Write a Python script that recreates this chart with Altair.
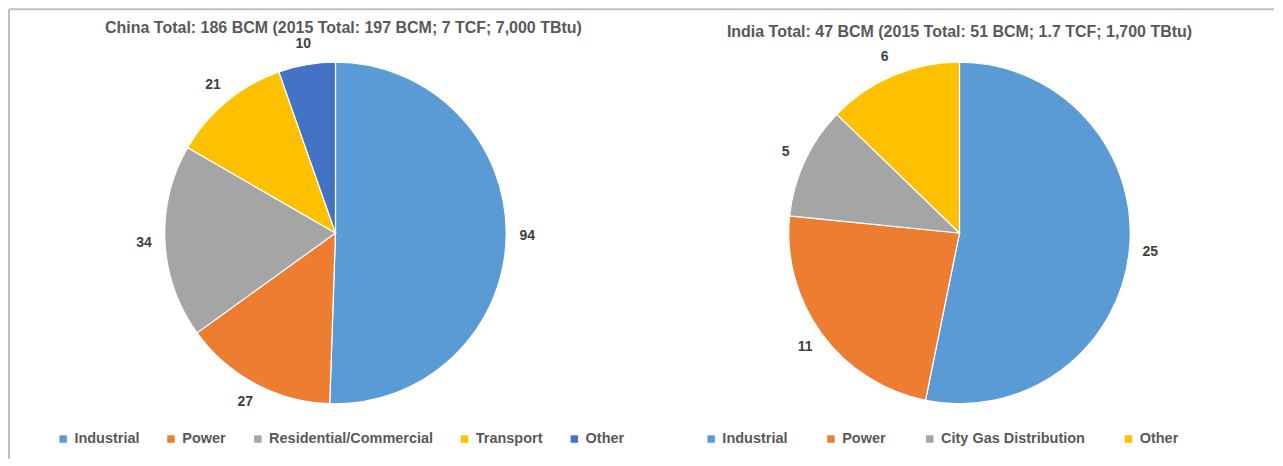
import altair as alt
import pandas as pd

# ---- data ----
china_categories = ["Industrial", "Power", "Residential/Commercial", "Transport", "Other"]
china_values = [94, 27, 34, 21, 10]
china_colors = ["#5B9BD5", "#ED7D31", "#A5A5A5", "#FFC000", "#4472C4"]
china_title = "China Total: 186 BCM (2015 Total: 197 BCM; 7 TCF; 7,000 TBtu)"

india_categories = ["Industrial", "Power", "City Gas Distribution", "Other"]
india_values = [25, 11, 5, 6]
india_colors = ["#5B9BD5", "#ED7D31", "#A5A5A5", "#FFC000"]
india_title = "India Total: 47 BCM (2015 Total: 51 BCM; 1.7 TCF; 1,700 TBtu)"

countries = ["China", "India"]

FONT = "Liberation Sans"
W, H = 1267, 450


def make_df(country, cats, vals):
    return pd.DataFrame({
        "country": country,
        "category": cats,
        "value": vals,
        "order": list(range(len(cats))),
    })


xenc = alt.X("country:N", scale=alt.Scale(type="point", domain=countries, range=[327, 952], padding=0), axis=None)
ycenter = alt.value(224)


def pie(country, cats, vals, colors, title, legend_x, col_pad, title_y, title_dx):
    df = make_df(country, cats, vals)
    base = alt.Chart(df)
    arc = base.mark_arc(outerRadius=171, stroke="white", strokeWidth=1.2).encode(
        x=xenc,
        y=ycenter,
        theta=alt.Theta("value:Q", stack=True),
        order=alt.Order("order:Q"),
        color=alt.Color(
            "category:N",
            scale=alt.Scale(domain=cats, range=colors),
            sort=cats,
            legend=alt.Legend(
                title=None,
                orient="none",
                direction="horizontal",
                legendX=legend_x,
                legendY=423,
                columns=len(cats),
                columnPadding=col_pad,
                symbolType="square",
                symbolSize=56,
                symbolStrokeWidth=0,
                labelFont=FONT,
                labelFontSize=14.5,
                labelFontWeight="bold",
                labelColor="#595959",
                labelOffset=4,
                labelLimit=300,
            ),
        ),
    )
    text = base.mark_text(radius=192, font=FONT, fontSize=14, fontWeight="bold", color="#404040").encode(
        x=xenc,
        y=ycenter,
        theta=alt.Theta("value:Q", stack=True),
        order=alt.Order("order:Q"),
        text=alt.Text("value:Q"),
    )
    tdf = pd.DataFrame({"country": [country], "title": [title]})
    ttl = alt.Chart(tdf).mark_text(font=FONT, fontSize=16, fontWeight="bold", color="#595959", dx=title_dx).encode(
        x=xenc,
        y=alt.value(title_y),
        text="title:N",
    )
    return (arc + text).resolve_scale(theta="shared"), ttl


c_pie, c_ttl = pie("China", china_categories, china_values, china_colors, china_title, 47, 24, 19, 8)
i_pie, i_ttl = pie("India", india_categories, india_values, india_colors, india_title, 696, 36, 23, 0)

border_df = pd.DataFrame({"k": [0]})
left_rule = alt.Chart(border_df).mark_rule(color="#BFBFBF", strokeWidth=2).encode(
    x=alt.value(0), y=alt.value(0), y2=alt.value(H))
top_rule = alt.Chart(border_df).mark_rule(color="#BFBFBF", strokeWidth=2).encode(
    x=alt.value(0), x2=alt.value(W), y=alt.value(0))

chart = alt.layer(
    left_rule, top_rule, c_pie, c_ttl, i_pie, i_ttl
).resolve_scale(color="independent", theta="independent").properties(
    width=W, height=H, padding=0
).configure_view(stroke=None)

chart.save("out.html", embed_options={"renderer": "svg", "actions": False})
